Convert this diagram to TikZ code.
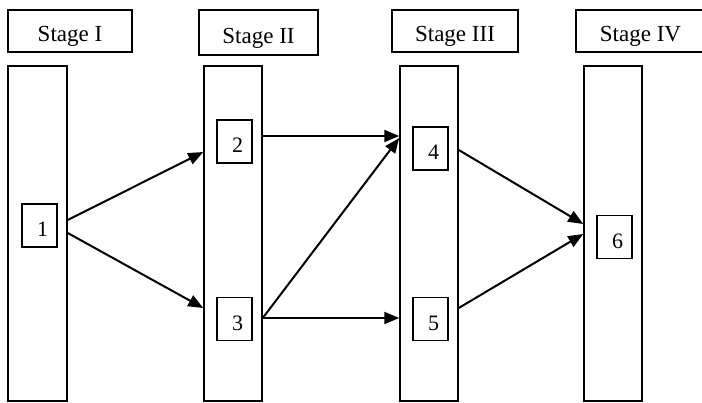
\documentclass[tikz,border=0pt]{standalone}
\usepackage{fontspec}
\setmainfont{Liberation Serif}
\usetikzlibrary{arrows.meta}
\begin{document}
\begin{tikzpicture}[x=1pt,y=-1pt,
  header/.style={draw, line width=1.5pt, minimum height=42pt, inner sep=0pt,
    text height=22pt, text depth=0pt, font=\fontsize{23}{23}\selectfont},
  col/.style={draw, line width=1.5pt, minimum width=59pt, minimum height=335pt, inner sep=0pt},
  item/.style={draw, line width=1.2pt, text width=17pt, align=right, inner xsep=9pt,
    inner ysep=0pt, minimum height=43pt, text height=23pt, text depth=0pt,
    font=\fontsize{22}{22}\selectfont},
  arr/.style={line width=2pt, -{Triangle[length=15pt,width=12pt]}}]
\useasboundingbox (0,0) rectangle (702,403);
\clip (0,0) rectangle (702,403);
% headers
\node[header, minimum width=124pt] (h1) at (70,31) {Stage I};
\node[header, minimum width=119pt, minimum height=45pt] (h2) at (258.5,32.5) {Stage II};
\node[header, minimum width=126pt] (h3) at (455,31) {Stage III};
\node[header, minimum width=129pt] (h4) at (640.5,31) {Stage IV};
% columns
\node[col] (c1) at (37.5,233.5) {};
\node[col, minimum width=58pt] (c2) at (233,233.5) {};
\node[col, minimum width=58pt] (c3) at (429,233.5) {};
\node[col, minimum width=58pt] (c4) at (613,233.5) {};
% items
\node[item] (b1) at (39.5,225.5) {1};
\node[item] (b2) at (234.5,141.5) {2};
\node[item] (b3) at (234.5,319) {3};
\node[item] (b4) at (430.5,148.5) {4};
\node[item] (b5) at (430.5,319) {5};
\node[item] (b6) at (614.5,237) {6};
% connector end points on column borders
\coordinate (s12) at (c1.east |- 0,220);
\coordinate (e12) at (c2.west |- 0,152);
\coordinate (s13) at (c1.east |- 0,233);
\coordinate (e13) at (c2.west |- 0,308);
\coordinate (s24) at (c2.east |- 0,136);
\coordinate (e24) at (c3.west |- 0,136);
\coordinate (s34) at (c2.east |- 0,318);
\coordinate (e34) at (c3.west |- 0,138);
\coordinate (s35) at (c2.east |- 0,318);
\coordinate (e35) at (c3.west |- 0,318);
\coordinate (s46) at (c3.east |- 0,150);
\coordinate (e46) at (c4.west |- 0,224);
\coordinate (s56) at (c3.east |- 0,308);
\coordinate (e56) at (c4.west |- 0,234);
% connectors
\draw[arr] (s12) -- (e12);
\draw[arr] (s13) -- (e13);
\draw[arr] (s24) -- (e24);
\draw[arr] (s34) -- (e34);
\draw[arr] (s35) -- (e35);
\draw[arr] (s46) -- (e46);
\draw[arr] (s56) -- (e56);
\end{tikzpicture}
\end{document}
